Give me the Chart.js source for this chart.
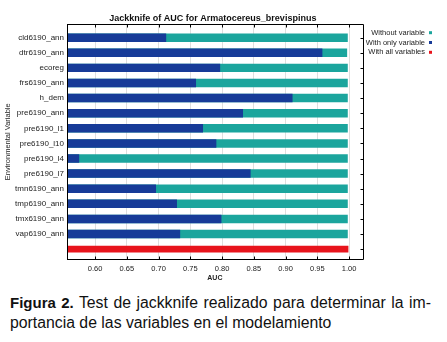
<!DOCTYPE html>
<html>
<head>
<meta charset="utf-8">
<script src="https://cdn.jsdelivr.net/npm/chart.js@4.4.0/dist/chart.umd.min.js"></script>
<style>
html, body { margin: 0; padding: 0; background: #fff; }
#wrap { width: 447px; height: 285px; }
#legenda { width: 421px; margin: 8px 0 0 10px; font: 15.8px/20px "Liberation Sans", Arial, sans-serif; color: #111; }
#legenda b { font-size: 15px; }
.linha1 { text-align: justify; text-align-last: justify; }
</style>
</head>
<body>
<div id="wrap"><canvas id="grafico" width="447" height="285"></canvas></div>
<div id="legenda">
  <div class="linha1"><b>Figura 2.</b> Test de jackknife realizado para determinar la im-</div>
  <div>portancia de las variables en el modelamiento</div>
</div>
<script>
// Variáveis ambientais (eixo Y)
const variaveis = ['cld6190_ann', 'dtr6190_ann', 'ecoreg', 'frs6190_ann', 'h_dem', 'pre6190_ann',
  'pre6190_l1', 'pre6190_l10', 'pre6190_l4', 'pre6190_l7', 'tmn6190_ann', 'tmp6190_ann',
  'tmx6190_ann', 'vap6190_ann'];

// AUC
const somenteVariavel = [0.712, 0.958, 0.797, 0.759, 0.911, 0.833, 0.770, 0.791, 0.575, 0.845, 0.696, 0.729, 0.799, 0.734];
const semVariavel = [0.998, 0.997, 0.998, 0.998, 0.998, 0.998, 0.998, 0.998, 0.998, 0.998, 0.998, 0.998, 0.998, 0.998];
const todasVariaveis = [0.999];

const nomesSeries = ['With only variable', 'Without variable', 'With all variables'];
const titulo = 'Jackknife of AUC for Armatocereus_brevispinus';

const azul = '#173b98';
const verde = '#1ba59d';
const vermelho = '#e8141c';
const fonte = '"Liberation Sans", Arial, sans-serif';

// desenha moldura, título e legenda
const moldura = {
  id: 'moldura',
  afterDraw(chart) {
    const { ctx, chartArea: a, scales } = chart;
    ctx.save();
    ctx.strokeStyle = '#000';
    ctx.lineWidth = 1;
    const l = Math.round(a.left) + 0.5, r = Math.round(a.right) + 0.5;
    const t = Math.round(a.top) + 0.5, b = Math.round(a.bottom) + 0.5;
    ctx.beginPath();
    ctx.rect(l, t, r - l, b - t);
    scales.x.ticks.forEach(tk => {
      const px = Math.round(scales.x.getPixelForValue(tk.value)) + 0.5;
      ctx.moveTo(px, t); ctx.lineTo(px, t + 3);
      ctx.moveTo(px, b); ctx.lineTo(px, b - 3);
    });
    scales.y.ticks.forEach(tk => {
      const py = Math.round(scales.y.getPixelForValue(tk.value)) + 0.5;
      ctx.moveTo(r, py); ctx.lineTo(r - 3, py);
    });
    ctx.stroke();

    ctx.fillStyle = '#111';
    ctx.font = 'bold 9px ' + fonte;
    ctx.textAlign = 'center';
    ctx.textBaseline = 'middle';
    ctx.fillText(titulo, (a.left + a.right) / 2 - 2, 19);

    // legenda: Without, With only, With all
    const ordem = [1, 0, 2];
    ctx.font = '7.5px ' + fonte;
    ctx.textAlign = 'right';
    ordem.forEach((idx, i) => {
      const ds = chart.data.datasets[idx];
      const y = 32.7 + i * 9.8;
      ctx.fillStyle = '#222';
      ctx.fillText(ds.label, 425, y);
      ctx.fillStyle = ds.backgroundColor;
      ctx.fillRect(429, y - 1.5, 3, 3);
    });
    ctx.restore();
  }
};

new Chart(document.getElementById('grafico'), {
  type: 'bar',
  data: {
    datasets: [
      { label: nomesSeries[0], backgroundColor: azul,
        data: somenteVariavel.map((v, i) => ({ x: v, y: i })) },
      { label: nomesSeries[1], backgroundColor: verde,
        data: semVariavel.map((v, i) => ({ x: v, y: i })) },
      { label: nomesSeries[2], backgroundColor: vermelho, barPercentage: 0.45,
        data: todasVariaveis.map(v => ({ x: v, y: variaveis.length })) }
    ]
  },
  options: {
    indexAxis: 'y',
    responsive: false,
    animation: false,
    devicePixelRatio: 1,
    layout: { padding: { top: 24.3, right: 84.3, left: 0, bottom: 0 } },
    datasets: { bar: { grouped: false, barPercentage: 0.56, categoryPercentage: 1 } },
    plugins: { legend: { display: false }, tooltip: { enabled: false } },
    scales: {
      x: {
        type: 'linear',
        min: 0.5558,
        max: 1.0215,
        afterFit: s => { s.height = 25.7; },
        ticks: {
          stepSize: 0.05,
          includeBounds: false,
          callback: v => v.toFixed(2),
          font: { family: fonte, size: 7.5 },
          color: '#222',
          padding: 5
        },
        grid: { color: 'rgba(0,0,0,0.13)', drawTicks: false },
        border: { color: '#000' },
        title: { display: true, text: 'AUC', color: '#222',
          font: { family: fonte, size: 7, weight: 'bold' }, padding: { top: 0, bottom: 3 } }
      },
      y: {
        type: 'linear',
        reverse: true,
        offset: false,
        min: -0.887,
        max: 14.675,
        afterFit: s => { s.width = 67; },
        ticks: {
          stepSize: 1,
          includeBounds: false,
          autoSkip: false,
          callback: v => variaveis[v] ?? '',
          font: { family: fonte, size: 8 },
          color: '#222',
          padding: 3
        },
        grid: { display: false, drawTicks: false, offset: false },
        border: { color: '#000' },
        title: { display: true, text: 'Environmental Variable', color: '#222',
          font: { family: fonte, size: 7.5 }, padding: { top: 3.5, bottom: 0 } }
      }
    }
  },
  plugins: [moldura]
});
</script>
</body>
</html>
